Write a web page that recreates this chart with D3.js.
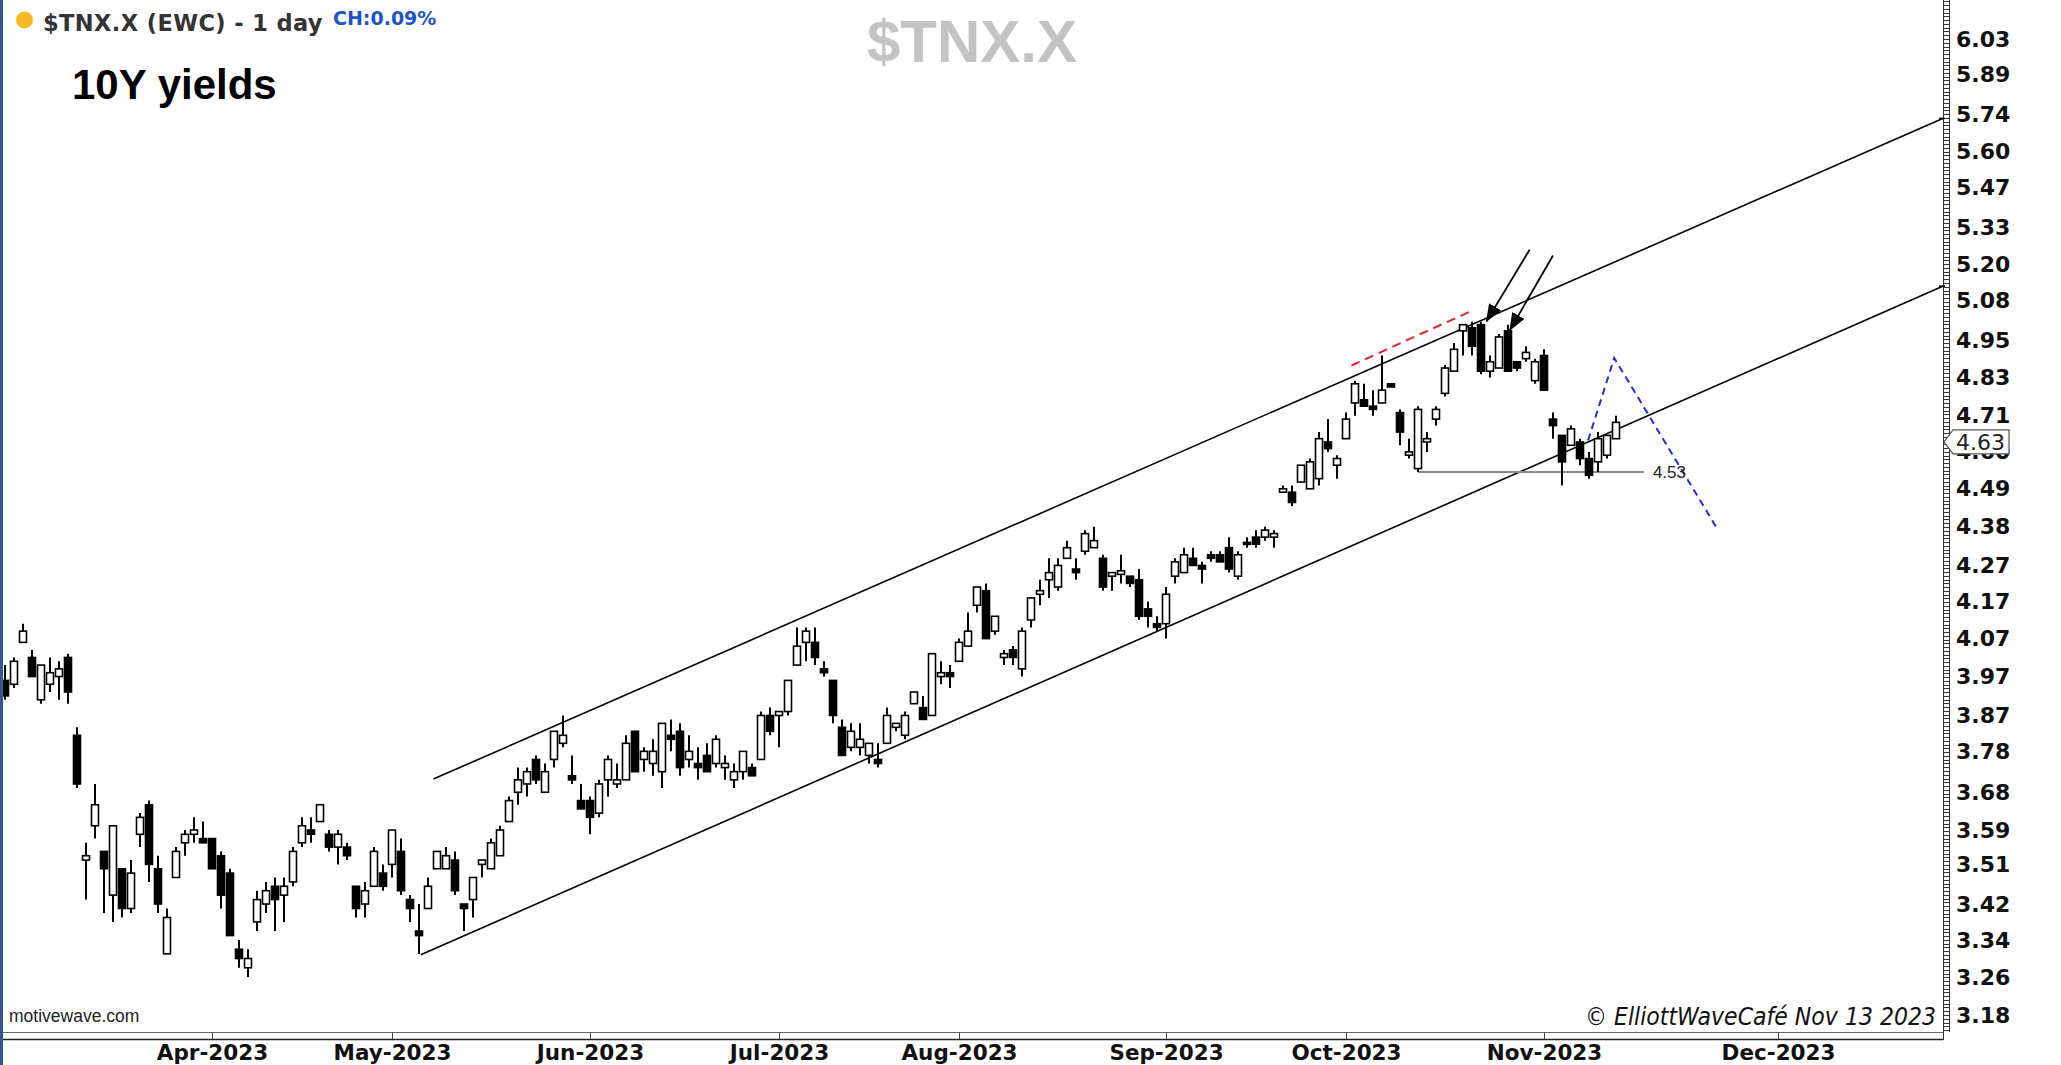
<!DOCTYPE html>
<html>
<head>
<meta charset="utf-8">
<script src="https://cdnjs.cloudflare.com/ajax/libs/d3/7.8.5/d3.min.js"></script>
<style>
  html, body { margin: 0; padding: 0; background: #fff; }
  svg { display: block; }
</style>
</head>
<body>
<div id="chart"></div>
<script>
// daily candles, 1 Mar 2023 .. 13 Nov 2023 (bar index 0..179)
const opens = [3.96,3.95,4.06,4.02,3.91,3.95,3.97,4.02,3.82,3.52,3.60,3.54,3.44,3.50,3.41,3.58,3.65,3.50,3.31,3.48,
  3.56,3.58,3.57,3.57,3.53,3.49,3.32,3.28,3.38,3.42,3.46,3.44,3.47,3.56,3.59,3.61,3.58,3.55,3.55,3.46,
  3.42,3.46,3.49,3.51,3.54,3.43,3.36,3.41,3.50,3.50,3.52,3.42,3.43,3.51,3.50,3.53,3.61,3.68,3.70,3.76,
  3.68,3.76,3.80,3.72,3.66,3.66,3.63,3.71,3.70,3.71,3.83,3.76,3.75,3.73,3.82,3.83,3.76,3.75,3.77,3.75,
  3.74,3.71,3.73,3.74,3.76,3.87,3.87,3.88,4.00,4.06,4.06,3.99,3.96,3.84,3.79,3.79,3.77,3.76,3.80,3.84,
  3.82,3.90,3.89,3.87,3.97,3.98,4.01,4.05,4.16,4.20,4.09,4.02,4.04,3.99,4.12,4.19,4.23,4.21,4.29,4.26,
  4.31,4.32,4.29,4.24,4.245,4.24,4.23,4.15,4.11,4.11,4.24,4.25,4.29,4.27,4.30,4.30,4.32,4.24,4.335,4.35,
  4.35,4.35,4.48,4.48,4.51,4.49,4.52,4.63,4.56,4.64,4.75,4.76,4.74,4.75,4.81,4.72,4.59,4.55,4.63,4.70,
  4.78,4.85,4.98,4.99,5.00,4.85,4.86,4.98,4.88,4.89,4.82,4.90,4.70,4.65,4.62,4.63,4.58,4.57,4.59,4.64];
const highs = [4.00,4.02,4.11,4.04,4.00,4.02,4.01,4.03,3.84,3.56,3.70,3.54,3.60,3.50,3.52,3.63,3.66,3.53,3.41,3.55,
  3.59,3.62,3.61,3.57,3.54,3.50,3.34,3.32,3.45,3.47,3.48,3.48,3.55,3.62,3.62,3.65,3.59,3.59,3.56,3.46,
  3.47,3.55,3.51,3.59,3.57,3.44,3.42,3.48,3.54,3.55,3.54,3.42,3.48,3.52,3.57,3.60,3.67,3.74,3.74,3.77,
  3.75,3.83,3.87,3.77,3.70,3.67,3.71,3.77,3.75,3.82,3.83,3.79,3.81,3.85,3.86,3.85,3.82,3.79,3.80,3.82,
  3.77,3.75,3.78,3.75,3.88,3.89,3.88,3.96,4.10,4.10,4.10,4.01,3.96,3.86,3.85,3.85,3.80,3.80,3.89,3.85,
  3.88,3.93,3.92,4.03,4.01,4.00,4.07,4.14,4.21,4.22,4.13,4.04,4.05,4.10,4.18,4.23,4.29,4.29,4.34,4.29,
  4.37,4.38,4.30,4.25,4.30,4.24,4.26,4.17,4.13,4.21,4.29,4.32,4.32,4.28,4.31,4.31,4.35,4.31,4.35,4.37,
  4.38,4.37,4.50,4.50,4.56,4.58,4.66,4.70,4.59,4.72,4.82,4.81,4.79,4.90,4.81,4.73,4.64,4.74,4.66,4.74,
  4.87,4.94,5.00,5.01,5.01,4.90,4.97,5.00,4.88,4.93,4.89,4.92,4.72,4.65,4.68,4.64,4.60,4.66,4.65,4.71];
const lows = [3.91,3.94,4.06,3.97,3.90,3.93,3.91,3.90,3.69,3.43,3.57,3.40,3.38,3.39,3.40,3.55,3.47,3.40,3.31,3.48,
  3.53,3.56,3.56,3.50,3.41,3.35,3.28,3.26,3.36,3.40,3.36,3.38,3.46,3.55,3.56,3.61,3.54,3.51,3.52,3.39,
  3.39,3.46,3.45,3.48,3.44,3.38,3.31,3.41,3.50,3.50,3.44,3.36,3.39,3.48,3.50,3.53,3.61,3.65,3.67,3.70,
  3.68,3.74,3.79,3.70,3.64,3.58,3.62,3.67,3.69,3.71,3.73,3.73,3.72,3.69,3.78,3.72,3.74,3.71,3.73,3.74,
  3.71,3.69,3.71,3.72,3.76,3.82,3.79,3.87,4.00,4.01,4.00,3.97,3.85,3.77,3.78,3.77,3.75,3.74,3.80,3.83,
  3.81,3.90,3.86,3.87,3.95,3.94,4.01,4.05,4.14,4.07,4.08,4.00,4.00,3.97,4.10,4.16,4.18,4.20,4.29,4.23,
  4.30,4.32,4.20,4.20,4.22,4.21,4.12,4.10,4.09,4.07,4.22,4.25,4.27,4.22,4.28,4.28,4.25,4.23,4.32,4.32,
  4.34,4.32,4.48,4.44,4.51,4.49,4.50,4.60,4.52,4.64,4.71,4.74,4.71,4.75,4.80,4.62,4.58,4.54,4.60,4.68,
  4.77,4.85,4.90,4.90,4.84,4.83,4.86,4.85,4.85,4.88,4.81,4.79,4.64,4.50,4.62,4.56,4.52,4.54,4.58,4.64];
const closes = [3.92,4.01,4.09,3.97,4.00,3.98,3.99,3.93,3.70,3.53,3.65,3.50,3.60,3.41,3.49,3.62,3.51,3.42,3.39,3.54,
  3.58,3.59,3.56,3.50,3.44,3.35,3.30,3.30,3.43,3.45,3.43,3.46,3.54,3.60,3.58,3.65,3.55,3.58,3.53,3.41,
  3.45,3.54,3.46,3.59,3.45,3.41,3.35,3.46,3.54,3.53,3.45,3.41,3.48,3.52,3.56,3.59,3.66,3.71,3.73,3.71,
  3.73,3.83,3.82,3.71,3.64,3.62,3.70,3.76,3.71,3.80,3.73,3.78,3.78,3.85,3.81,3.74,3.78,3.74,3.73,3.81,
  3.75,3.73,3.78,3.72,3.87,3.83,3.88,3.96,4.05,4.09,4.02,3.98,3.87,3.77,3.83,3.81,3.80,3.75,3.87,3.85,
  3.87,3.93,3.86,4.03,3.98,3.97,4.06,4.09,4.21,4.07,4.13,4.03,4.02,4.09,4.18,4.20,4.25,4.27,4.32,4.25,
  4.36,4.34,4.21,4.25,4.255,4.22,4.13,4.13,4.10,4.19,4.28,4.30,4.27,4.26,4.29,4.28,4.26,4.30,4.33,4.33,
  4.37,4.36,4.49,4.45,4.56,4.57,4.64,4.61,4.58,4.70,4.81,4.74,4.73,4.79,4.80,4.66,4.60,4.73,4.64,4.73,
  4.86,4.92,5.00,4.93,4.85,4.88,4.96,4.85,4.86,4.91,4.88,4.79,4.68,4.57,4.67,4.58,4.53,4.64,4.65,4.69];

const yTickLabels = ["6.03","5.89","5.74","5.60","5.47","5.33","5.20","5.08","4.95","4.83","4.71","4.60","4.49",
  "4.38","4.27","4.17","4.07","3.97","3.87","3.78","3.68","3.59","3.51","3.42","3.34","3.26","3.18"];
const monthLabels = ["Apr-2023","May-2023","Jun-2023","Jul-2023","Aug-2023","Sep-2023","Oct-2023","Nov-2023","Dec-2023"];
const monthStart = [23, 43, 65, 86, 106, 129, 149, 171, 197];   // bar index of first session

// drawn annotations as [bar index, yield]
const upperChannel = [[47.6, 3.712], [215.3, 5.724]];
const lowerChannel = [[46.2, 3.308], [215.3, 5.128]];
const redDash = [[149.6, 4.868], [163.2, 5.049]];
const blueDash = [[175.9, 4.635], [178.8, 4.892], [190.2, 4.376]];
const arrowLines = [[[169.4, 5.252], [164.6, 5.011]], [[172.0, 5.232], [167.2, 4.982]]];
const supportFrom = 157, supportTo = 182.1, supportLabel = "4.53";   // level line from the low of bar 157
const lastPrice = 4.63;

const width = 2061, height = 1065;
const plotRight = 1943, plotBottom = 1032;

const svg = d3.select("#chart").append("svg")
    .attr("width", width)
    .attr("height", height);

svg.append("rect").attr("width", width).attr("height", height).attr("fill", "#fff");

const xScale = d3.scaleLinear().domain([0, 179]).range([5, 1616]);
const yScale = d3.scaleLog().domain([3.18, 6.03]).range([1015, 39]);

// watermark + titles
svg.append("text")
    .attr("x", 867).attr("y", 62)
    .style("font", "bold 60px 'Liberation Sans', Arial, sans-serif")
    .attr("fill", "#c3c3c3")
    .text("$TNX.X");

svg.append("circle").attr("cx", 24.5).attr("cy", 20).attr("r", 8.5).attr("fill", "#f7b924");
svg.append("text")
    .attr("x", 43).attr("y", 31)
    .style("font", "bold 22.5px 'DejaVu Sans', Verdana, sans-serif")
    .style("letter-spacing", "0.4px")
    .attr("fill", "#333")
    .text("$TNX.X (EWC) - 1 day");
svg.append("text")
    .attr("x", 333).attr("y", 25)
    .style("font", "bold 19px 'DejaVu Sans', Verdana, sans-serif")
    .attr("fill", "#1d55c4")
    .text("CH:0.09%");
svg.append("text")
    .attr("x", 72).attr("y", 99)
    .style("font", "bold 42px 'Liberation Sans', Arial, sans-serif")
    .attr("fill", "#000")
    .text("10Y yields");

// channel + annotations
const lineGen = d3.line().x(d => xScale(d[0])).y(d => yScale(d[1]));
const ann = svg.append("g").attr("fill", "none");

ann.selectAll("path.channel")
    .data([upperChannel, lowerChannel])
    .join("path")
    .attr("class", "channel")
    .attr("d", lineGen)
    .attr("stroke", "#000")
    .attr("stroke-width", 1.6);

ann.append("path")
    .attr("d", lineGen(redDash))
    .attr("stroke", "#e3202a")
    .attr("stroke-width", 2)
    .attr("stroke-dasharray", "9,6");

const supportY = yScale(lows[supportFrom]);
ann.append("line")
    .attr("x1", xScale(supportFrom)).attr("x2", xScale(supportTo))
    .attr("y1", supportY).attr("y2", supportY)
    .attr("stroke", "#8a8a8a")
    .attr("stroke-width", 2);
svg.append("text")
    .attr("x", xScale(supportTo) + 9).attr("y", supportY + 6)
    .style("font", "17px 'Liberation Sans', Arial, sans-serif")
    .attr("fill", "#222")
    .text(supportLabel);

// candles
const candles = opens.map((o, i) => ({ i, o, h: highs[i], l: lows[i], c: closes[i] }));
const bodyW = 7;
const cg = svg.append("g");
cg.selectAll("line")
    .data(candles)
    .join("line")
    .attr("x1", d => xScale(d.i)).attr("x2", d => xScale(d.i))
    .attr("y1", d => yScale(d.h)).attr("y2", d => yScale(d.l))
    .attr("stroke", "#000")
    .attr("stroke-width", 2);
cg.selectAll("rect")
    .data(candles)
    .join("rect")
    .attr("x", d => xScale(d.i) - bodyW / 2)
    .attr("y", d => yScale(Math.max(d.o, d.c)))
    .attr("width", bodyW)
    .attr("height", d => Math.max(2, Math.abs(yScale(d.o) - yScale(d.c))))
    .attr("fill", d => d.c >= d.o ? "#fff" : "#000")
    .attr("stroke", "#000")
    .attr("stroke-width", 1.6);

// blue projection drawn over candles
ann.append("path")
    .attr("d", lineGen(blueDash))
    .attr("stroke", "#2431d0")
    .attr("stroke-width", 2)
    .attr("stroke-dasharray", "7,5");

// arrows
const defs = svg.append("defs");
defs.append("marker")
    .attr("id", "head")
    .attr("markerUnits", "userSpaceOnUse")
    .attr("viewBox", "0 0 18 14")
    .attr("refX", 17).attr("refY", 7)
    .attr("markerWidth", 18).attr("markerHeight", 14)
    .attr("orient", "auto")
    .append("path")
    .attr("d", "M0,0 L18,7 L0,14 Z")
    .attr("fill", "#000");

svg.append("g").selectAll("path")
    .data(arrowLines)
    .join("path")
    .attr("d", lineGen)
    .attr("fill", "none")
    .attr("stroke", "#000")
    .attr("stroke-width", 1.8)
    .attr("marker-end", "url(#head)");

// right axis
svg.append("rect")
    .attr("x", plotRight).attr("y", 0)
    .attr("width", width - plotRight).attr("height", plotBottom)
    .attr("fill", "#fff");

const yTickVals = yTickLabels.map(Number);
const yAxis = d3.axisRight(yScale)
    .tickValues(yTickVals)
    .tickFormat(d3.format(".2f"))
    .tickSize(0)
    .tickPadding(13);

const yAxisG = svg.append("g")
    .attr("transform", "translate(" + plotRight + ",0)")
    .call(yAxis);
yAxisG.select(".domain").remove();
yAxisG.selectAll(".tick text")
    .style("font", "bold 22px 'DejaVu Sans', Verdana, sans-serif")
    .attr("fill", "#111");

// ruler with minor ticks
const step = (yScale(yTickVals[yTickVals.length - 1]) - yScale(yTickVals[0])) / (yTickVals.length - 1) / 10;
const minorY = [];
for (let y = yScale(yTickVals[0]); y > 0; y -= step) minorY.push(y);
for (let y = yScale(yTickVals[0]) + step; y < plotBottom; y += step) minorY.push(y);
const ruler = svg.append("g").attr("stroke", "#333").attr("stroke-width", 1);
ruler.selectAll("line.minor")
    .data(minorY)
    .join("line")
    .attr("x1", plotRight).attr("x2", plotRight + 6)
    .attr("y1", d => Math.round(d) + 0.5).attr("y2", d => Math.round(d) + 0.5);
ruler.append("line").attr("x1", plotRight + 0.5).attr("x2", plotRight + 0.5).attr("y1", 0).attr("y2", plotBottom + 8);
ruler.append("line").attr("x1", plotRight + 6.5).attr("x2", plotRight + 6.5).attr("y1", 0).attr("y2", plotBottom);

// channel lines touch the axis
svg.append("g").selectAll("line")
    .data([upperChannel, lowerChannel])
    .join("line")
    .attr("x1", plotRight - 4).attr("x2", plotRight + 2)
    .attr("y1", d => yScale(d[1][1])).attr("y2", d => yScale(d[1][1]))
    .attr("stroke", "#000").attr("stroke-width", 1.6);

// last price marker
const py = yScale(lastPrice);
svg.append("path")
    .attr("d", `M${plotRight + 1},${py} L${plotRight + 10},${py - 12} L${plotRight + 66},${py - 12} L${plotRight + 66},${py + 12} L${plotRight + 10},${py + 12} Z`)
    .attr("fill", "#fff")
    .attr("stroke", "#555")
    .attr("stroke-width", 1.2);
svg.append("text")
    .attr("x", plotRight + 13).attr("y", py + 8)
    .style("font", "22px 'DejaVu Sans', Verdana, sans-serif")
    .attr("fill", "#222")
    .text(lastPrice.toFixed(2));

// bottom time axis
const xAxis = d3.axisBottom(xScale)
    .tickValues(monthStart)
    .tickFormat((d, i) => monthLabels[i])
    .tickSize(7)
    .tickPadding(6);

svg.append("line")
    .attr("x1", 3).attr("x2", plotRight)
    .attr("y1", plotBottom + 0.5).attr("y2", plotBottom + 0.5)
    .attr("stroke", "#666");
svg.append("line")
    .attr("x1", 3).attr("x2", plotRight)
    .attr("y1", plotBottom + 7.5).attr("y2", plotBottom + 7.5)
    .attr("stroke", "#222").attr("stroke-width", 1.5);

const xAxisG = svg.append("g")
    .attr("transform", "translate(0," + plotBottom + ")")
    .call(xAxis);
xAxisG.select(".domain").remove();
xAxisG.selectAll(".tick line").attr("stroke", "#444");
xAxisG.selectAll(".tick text")
    .style("font", "bold 21.5px 'DejaVu Sans', Verdana, sans-serif")
    .attr("fill", "#111");

// footer texts
svg.append("text")
    .attr("x", 9).attr("y", 1022)
    .style("font", "17.5px 'Liberation Sans', Arial, sans-serif")
    .attr("fill", "#222")
    .text("motivewave.com");
svg.append("text")
    .attr("x", 1936).attr("y", 1025)
    .attr("text-anchor", "end")
    .style("font", "italic 24.5px 'DejaVu Sans Condensed', 'DejaVu Sans', sans-serif")
    .attr("fill", "#111")
    .text("© ElliottWaveCafé Nov 13 2023");

// left frame edge
svg.append("rect").attr("x", 0).attr("y", 0).attr("width", 3).attr("height", height).attr("fill", "#2d5a89");
</script>
</body>
</html>
